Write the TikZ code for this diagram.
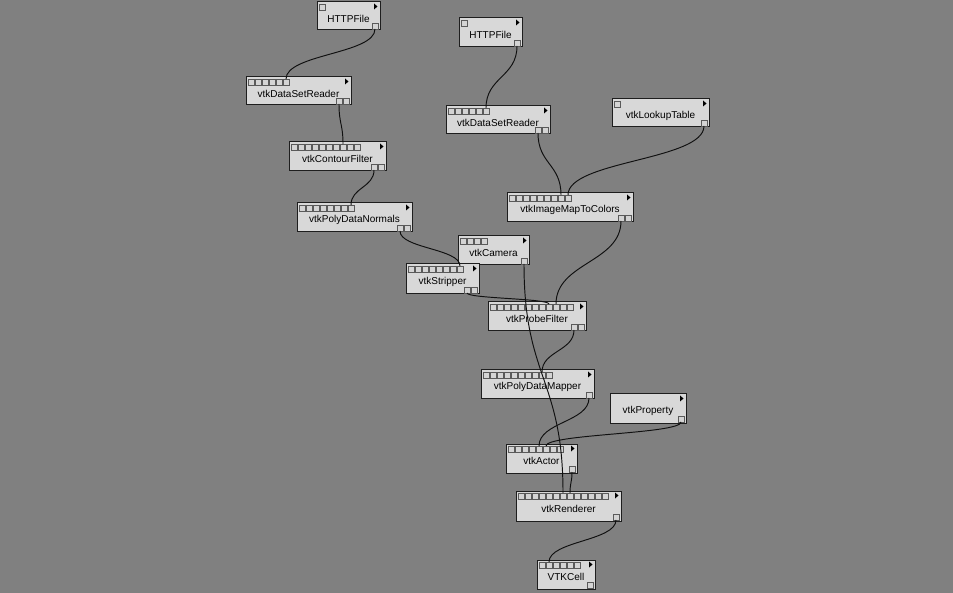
\documentclass[tikz,border=0pt]{standalone}
\usepackage{fontspec}
\setmainfont{Liberation Sans}
\usetikzlibrary{calc}
\definecolor{bgcol}{HTML}{808080}
\definecolor{boxfill}{HTML}{D8D8D8}
\definecolor{boxline}{HTML}{1E1E1E}
\definecolor{portline}{HTML}{5A5A5A}
\definecolor{portfill}{HTML}{D4D4D4}
\definecolor{wirecol}{HTML}{101010}
\tikzset{
  boxstyle/.style={draw=boxline, fill=boxfill, line width=1pt, inner sep=0pt, outer sep=0pt, anchor=north west, rectangle},
  portstyle/.style={draw=portline, fill=portfill, line width=0.7pt},
  tristyle/.style={fill=black},
  labelstyle/.style={font=\fontsize{10}{12}\selectfont, inner sep=0pt, text=black},
  wire/.style={draw=wirecol, line width=0.95pt,
    to path={let \p1=(\tikztostart), \p2=(\tikztotarget), \p3=($(\p1)!0.5!(\p2)$) in
      .. controls (\x1,\y3) and (\x2,\y3) .. (\tikztotarget)}}
}
% \vtkbox{name}{L}{T}{R}{B}{text}{nin}{nout}
\newcommand\vtkbox[8]{%
  \pgfmathsetmacro\bw{#4-#2}%
  \pgfmathsetmacro\bh{#5-#3}%
  \node[boxstyle, minimum width=\bw pt, minimum height=\bh pt] (#1) at (#2,#3) {};
  \node[labelstyle] (#1-label) at ($(#1.center)+(0,2.5)$) {#6};
  \fill[tristyle] (#4-6,#3+1.5) -- (#4-6,#3+7.5) -- (#4-2.5,#3+4.5) -- cycle;
  \ifnum#7>0
    \foreach \k in {1,...,#7}{%
      \pgfmathsetmacro\xx{#2+2+7*(\k-1)}%
      \draw[portstyle] (\xx,#3+2) rectangle +(6,6);
      \coordinate (#1-in-\k) at (\xx+3,#3+2);
    }%
  \fi
  \foreach \j in {1,...,#8}{%
    \pgfmathsetmacro\xx{#4-8-7*(#8-\j)}%
    \draw[portstyle] (\xx,#5-7) rectangle +(6,6);
    \coordinate (#1-out-\j) at (\xx+3,#5-1);
  }%
}
\begin{document}
\begin{tikzpicture}[x=1pt,y=-1pt]
\useasboundingbox (0,0) rectangle (953,593);
\fill[bgcol] (0,0) rectangle (953,593);
\vtkbox{httpa}{317}{2}{380}{30}{HTTPFile}{1}{1}
\vtkbox{dsra}{246}{77}{351}{105}{vtkDataSetReader}{6}{2}
\vtkbox{httpb}{459}{18}{522}{47}{HTTPFile}{1}{1}
\vtkbox{dsrb}{446}{106}{550}{134}{vtkDataSetReader}{6}{2}
\vtkbox{lut}{612}{99}{709}{127}{vtkLookupTable}{1}{1}
\vtkbox{cf}{289}{142}{386}{171}{vtkContourFilter}{10}{2}
\vtkbox{pdn}{297}{203}{412}{232}{vtkPolyDataNormals}{8}{2}
\vtkbox{imc}{507}{193}{633}{222}{vtkImageMapToColors}{9}{2}
\vtkbox{cam}{458}{236}{529}{265}{vtkCamera}{4}{1}
\vtkbox{strp}{406}{264}{479}{294}{vtkStripper}{8}{2}
\vtkbox{pf}{488}{302}{586}{331}{vtkProbeFilter}{12}{2}
\vtkbox{pdm}{481}{370}{594}{399}{vtkPolyDataMapper}{10}{1}
\vtkbox{prop}{610}{394}{686}{423}{vtkProperty}{0}{1}
\vtkbox{act}{506}{444}{577}{473}{vtkActor}{8}{1}
\vtkbox{ren}{516}{491}{621}{521}{vtkRenderer}{13}{1}
\vtkbox{cell}{537}{560}{595}{589}{VTKCell}{6}{1}
% connectors
\draw[wire] (httpa-out-1) to (dsra-in-6);
\draw[wire] (dsra-out-1) to (cf-in-8);
\draw[wire] (cf-out-1) to (pdn-in-8);
\draw[wire] (pdn-out-1) to (strp-in-8);
\draw[wire] (httpb-out-1) to (dsrb-in-6);
\draw[wire] (dsrb-out-1) to (imc-in-8);
\draw[wire] (lut-out-1) to (imc-in-9);
\draw[wire] (strp-out-1) to (pf-in-9);
\draw[wire] (imc-out-1) to (pf-in-10);
\draw[wire] (pf-out-1) to (pdm-in-9);
\draw[wire] (pdm-out-1) to (act-in-5);
\draw[wire] (prop-out-1) to (act-in-6);
\draw[wire] (cam-out-1) to (ren-in-7);
\draw[wire] (act-out-1) to (ren-in-8);
\draw[wire] (ren-out-1) to (cell-in-2);
\end{tikzpicture}
\end{document}
